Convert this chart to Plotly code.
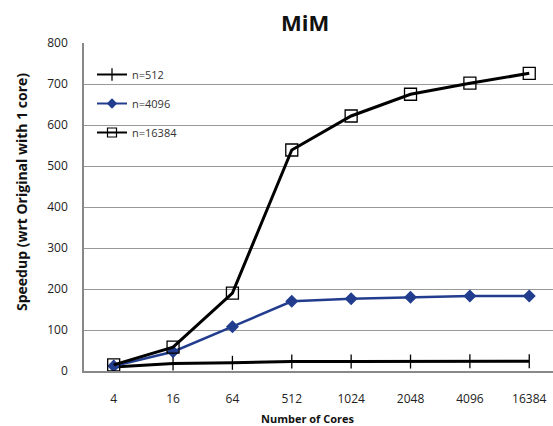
import plotly.graph_objects as go

cores = ["4", "16", "64", "512", "1024", "2048", "4096", "16384"]
n512 = [10, 18, 20, 23, 23, 23, 24, 24]
n4096 = [12, 47, 108, 170, 176, 180, 183, 183]
n16384 = [15, 58, 190, 539, 622, 675, 702, 726]
y_ticks = [0, 100, 200, 300, 400, 500, 600, 700, 800]

W, H = 553, 426
L, R, T, B = 84, 0, 43, 55
PW, PH = W - L - R, H - T - B


def px(x):
    return (x - L) / PW


def py(y):
    return (H - B - y) / PH


BLUE = "#223D8E"
styles = [
    ("n=512", n512, dict(color="black", width=3),
     dict(symbol="line-ns-open", size=10, line=dict(color="black", width=1.3)),
     dict(symbol="line-ns-open", size=9, line=dict(color="black", width=1.3)), 2),
    ("n=4096", n4096, dict(color=BLUE, width=2.5),
     dict(symbol="diamond", size=10, color=BLUE),
     dict(symbol="diamond", size=8, color=BLUE), 2),
    ("n=16384", n16384, dict(color="black", width=3),
     dict(symbol="square-open", size=12, color="black", line=dict(color="#222", width=1.3)),
     dict(symbol="square-open", size=9, color="black", line=dict(color="#222", width=1.2)), 2),
]

fig = go.Figure()
for i, (name, vals, line, marker, lmarker, lw) in enumerate(styles):
    fig.add_trace(go.Scatter(
        x=cores, y=vals, name=name, mode="lines+markers", showlegend=False,
        line=line, marker=marker,
    ))
for i, (name, vals, line, marker, lmarker, lw) in enumerate(styles):
    fig.add_trace(go.Scatter(
        x=[None], y=[None], name=name, mode="lines+markers", legendgroup=str(i),
        line=dict(color=line["color"], width=lw), marker=lmarker,
    ))

fig.update_layout(
    width=W, height=H,
    margin=dict(l=L, r=R, t=T, b=B, pad=0),
    paper_bgcolor="white", plot_bgcolor="white",
    font=dict(family="Open Sans, Lato, sans-serif", color="#222", size=12),
    showlegend=True,
    legend=dict(x=px(92), y=py(60), xanchor="left", yanchor="top",
                bgcolor="rgba(0,0,0,0)", font=dict(size=11, color="#333"),
                tracegroupgap=10, itemwidth=30),
    xaxis=dict(
        type="category", range=[-0.5, 7.4],
        showgrid=False, showline=True, linecolor="#888", linewidth=1.5,
        ticks="", ticklabelstandoff=16, tickfont=dict(size=12, color="#222"),
        zeroline=False,
    ),
    yaxis=dict(
        range=[0, 800], tickvals=y_ticks,
        showgrid=True, gridcolor="#999", gridwidth=1,
        showline=True, linecolor="#888", linewidth=1.5,
        ticks="", ticklabelstandoff=12, tickfont=dict(size=12, color="#222"),
        zeroline=False,
    ),
    annotations=[
        dict(text="<b>MiM</b>", x=px(305), y=py(22), xref="paper", yref="paper",
             showarrow=False, font=dict(size=22, color="#111"), xanchor="center", yanchor="middle"),
        dict(text="<b>Speedup (wrt Original with 1 core)</b>", x=px(21), y=py(192),
             xref="paper", yref="paper", textangle=-90, showarrow=False,
             font=dict(size=14, color="#111"), xanchor="center", yanchor="middle"),
        dict(text="<b>Number of Cores</b>", x=px(308), y=py(419), xref="paper", yref="paper",
             showarrow=False, font=dict(size=11, color="#111"), xanchor="center", yanchor="middle"),
    ],
)

fig.write_html("out.html")
